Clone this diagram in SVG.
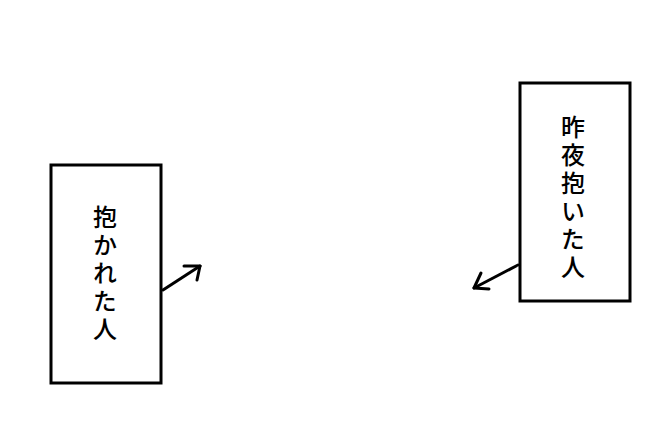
<svg xmlns="http://www.w3.org/2000/svg" width="660" height="440" viewBox="0 0 660 440">
<style>
.box{fill:#fff;stroke:#000;stroke-width:3}
.t{font-family:"Noto Sans CJK JP","Noto Sans CJK SC",sans-serif;font-size:24px;font-weight:500;fill:#000;writing-mode:vertical-rl;letter-spacing:4px}
.c{fill:none;stroke:#000;stroke-width:3;stroke-linecap:round;stroke-linejoin:round}
</style>
<rect width="660" height="440" fill="#fff"/>
<g id="node-left">
<rect class="box" x="51" y="165" width="110" height="218"/>
<text class="t" x="105" y="205">抱かれた人</text>
</g>
<g id="node-right">
<rect class="box" x="520" y="83" width="110" height="218"/>
<text class="t" x="573" y="115">昨夜抱いた人</text>
</g>
<g id="connectors">
<line class="c" x1="163" y1="290" x2="200" y2="266"/>
<polyline class="c" points="184,266 200,266 197,280"/>
<line class="c" x1="518" y1="265" x2="474" y2="288"/>
<polyline class="c" points="481,273 474,288 489,289"/>
</g>
</svg>
